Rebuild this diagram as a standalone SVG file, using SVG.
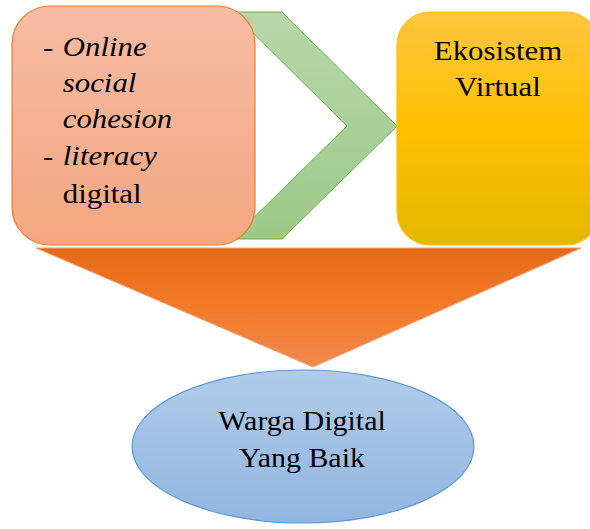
<svg xmlns="http://www.w3.org/2000/svg" width="590" height="529" viewBox="0 0 590 529">
<defs>
<linearGradient id="gPeach" x1="0" y1="0" x2="0" y2="1"><stop offset="0" stop-color="#F6BCA3"/><stop offset="1" stop-color="#F5A680"/></linearGradient>
<linearGradient id="gGreen" x1="0" y1="0" x2="0" y2="1"><stop offset="0" stop-color="#B7D7AA"/><stop offset="1" stop-color="#9CC987"/></linearGradient>
<linearGradient id="gGold" x1="0" y1="0" x2="0" y2="1"><stop offset="0" stop-color="#FFC53F"/><stop offset="0.5" stop-color="#FFC000"/><stop offset="1" stop-color="#E5B700"/></linearGradient>
<linearGradient id="gOrange" x1="0" y1="0" x2="0" y2="1"><stop offset="0" stop-color="#E46A1A"/><stop offset="0.5" stop-color="#F37A28"/><stop offset="1" stop-color="#F0884E"/></linearGradient>
<linearGradient id="gBlue" x1="0" y1="0" x2="0" y2="1"><stop offset="0" stop-color="#B1CBE9"/><stop offset="1" stop-color="#92B5E1"/></linearGradient>
</defs>
<style>
.t{font-family:'Liberation Serif','Times New Roman',serif;font-size:28px;fill:#000}
.it{font-style:italic}
.c{text-anchor:middle}
</style>
<g id="connectors">
<polygon id="chevron" points="232,12 282,12 397,126 282,239 232,239 347,126" fill="url(#gGreen)" stroke="#70AD47" stroke-width="1"/>
<polygon id="funnel" points="36,248 581,248 313,367" fill="url(#gOrange)" stroke="#F4A070" stroke-width="1"/>
</g>
<g id="node-left">
<rect x="12" y="6" width="243" height="239" rx="38" fill="url(#gPeach)" stroke="#ED7D31" stroke-width="1.2"/>
<g class="t" font-family="Liberation Serif, serif" transform="translate(43,0) scale(1.1,1)">
<text x="0" y="56">-</text>
<text x="18" y="56" class="it">Online</text>
<text x="18" y="92" class="it">social</text>
<text x="18" y="128" class="it">cohesion</text>
<text x="0" y="165">-</text>
<text x="18" y="165" class="it">literacy</text>
<text x="18" y="203">digital</text>
</g>
</g>
<g id="node-right">
<rect x="397" y="12" width="202" height="233" rx="33" fill="url(#gGold)" stroke="#FFC000" stroke-width="1.2"/>
<g class="t c" font-family="Liberation Serif, serif" transform="translate(498,0) scale(1.1,1)">
<text x="0" y="60">Ekosistem</text>
<text x="0" y="96">Virtual</text>
</g>
</g>
<g id="node-bottom">
<ellipse cx="303" cy="446.5" rx="171" ry="76.5" fill="url(#gBlue)" stroke="#5B9BD5" stroke-width="1.2"/>
<g class="t c" font-family="Liberation Serif, serif" transform="translate(302,0) scale(1.07,1)">
<text x="0" y="430">Warga Digital</text>
<text x="0" y="467">Yang Baik</text>
</g>
</g>
</svg>
